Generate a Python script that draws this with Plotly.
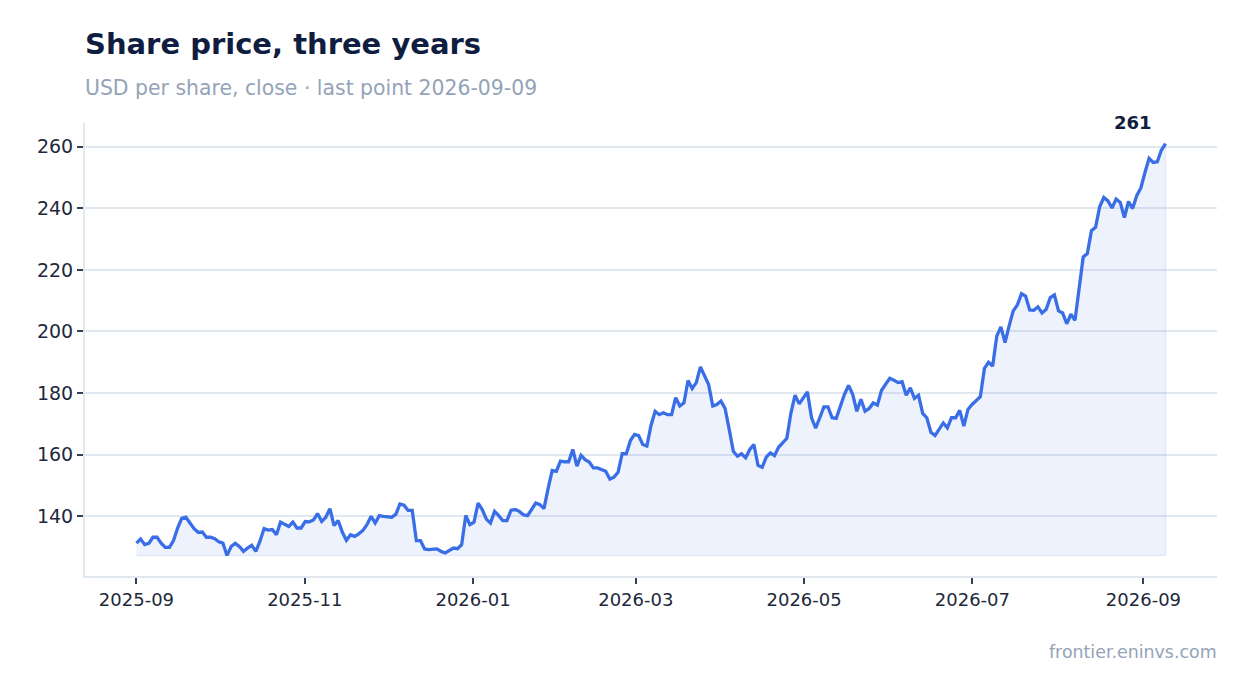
import pandas as pd
import plotly.graph_objects as go

# closing prices (evenly spaced sessions)
close = [
    131.3, 132.6, 130.8, 131.2, 133.2, 133.2, 131.3, 129.9, 129.9, 132.1,
    136.2, 139.3, 139.7, 137.8, 136.0, 134.8, 134.9, 133.2, 133.2, 132.7,
    131.7, 131.3, 127.3, 130.2, 131.2, 130.2, 128.6, 129.7, 130.6, 128.6,
    131.9, 136.0, 135.5, 135.7, 134.0, 138.1, 137.5, 136.7, 138.1, 136.2,
    136.2, 138.3, 138.2, 138.8, 140.9, 138.3, 139.7, 142.5, 137.0, 138.6,
    134.9, 132.2, 134.0, 133.5, 134.3, 135.4, 137.3, 140.0, 137.8, 140.2,
    140.0, 139.9, 139.7, 140.6, 144.0, 143.6, 141.9, 141.9, 132.1, 132.1,
    129.4, 129.2, 129.3, 129.4, 128.6, 128.1, 128.9, 129.7, 129.5, 130.8,
    140.3, 137.3, 138.1, 144.3, 142.2, 139.1, 137.8, 141.6, 140.2, 138.6,
    138.6, 142.0, 142.2, 141.6, 140.5, 140.2, 142.2, 144.3, 143.8, 142.5,
    149.0, 154.9, 154.6, 157.9, 157.7, 157.7, 161.7, 156.3, 159.8, 158.4,
    157.6, 155.7, 155.7, 155.2, 154.6, 152.1, 152.7, 154.3, 160.3, 160.3,
    164.6, 166.6, 166.2, 163.3, 162.8, 169.5, 174.1, 173.0, 173.6, 173.0,
    173.0, 178.5, 175.8, 176.8, 184.1, 181.5, 183.4, 188.5, 185.5, 182.8,
    175.8, 176.3, 177.4, 175.0, 168.2, 161.1, 159.5, 160.3, 159.0, 161.7,
    163.3, 156.5, 155.9, 159.2, 160.6, 159.7, 162.4, 163.8, 165.3, 173.6,
    179.3, 176.5, 178.5, 180.4, 172.0, 168.6, 172.0, 175.5, 175.5, 172.0,
    171.8, 175.8, 179.6, 182.5, 179.6, 174.1, 178.0, 174.1, 175.0, 176.8,
    176.1, 180.9, 182.8, 184.8, 184.2, 183.4, 183.7, 179.3, 181.7, 178.3,
    179.3, 173.4, 172.0, 167.3, 166.2, 168.2, 170.3, 168.7, 172.0, 172.0,
    174.4, 169.3, 174.7, 176.3, 177.4, 178.8, 188.0, 190.0, 188.8, 198.5,
    201.5, 196.4, 201.8, 206.7, 208.6, 212.3, 211.5, 207.0, 206.9, 208.0,
    206.0, 207.2, 211.0, 211.9, 206.7, 206.0, 202.5, 205.6, 203.6, 213.7,
    224.2, 225.3, 232.7, 233.8, 240.5, 243.5, 242.4, 240.1, 243.0, 241.9,
    237.0, 242.2, 239.9, 244.1, 246.6, 251.6, 256.2, 254.9, 255.1, 258.9,
    261.0,
]
first_day = "2025-09-01"
last_day = "2026-09-09"

title = "Share price, three years"
subtitle = "USD per share, close · last point 2026-09-09"
source = "frontier.eninvs.com"

LINE = "#3a6ee6"
NAVY = "#0f1d40"
GREY = "#94a3b8"
GRID = "#e2e8f0"
FONT = "DejaVu Sans"

dates = pd.date_range(first_day, last_day, periods=len(close))
base = min(close)

# padded ranges like the original
span_y = max(close) - base
y_range = [base - 0.05 * span_y, max(close) + 0.05 * span_y]
span_x = dates[-1] - dates[0]
x_range = [dates[0] - 0.05 * span_x, dates[-1] + 0.05 * span_x]

fig = go.Figure()

# light area under the line, down to the lowest close
fig.add_trace(go.Scatter(
    x=list(dates) + list(dates[::-1]),
    y=close + [base] * len(close),
    fill="toself", fillcolor="rgba(58,110,230,0.085)",
    line=dict(color="rgba(58,110,230,0.10)", width=1.5),
    mode="lines", hoverinfo="skip",
))
fig.add_trace(go.Scatter(
    x=dates, y=close, mode="lines",
    line=dict(color=LINE, width=3.3),
))

fig.add_annotation(
    x=dates[-1], y=close[-1], text="<b>%d</b>" % round(close[-1]),
    showarrow=False, xanchor="center", yanchor="middle",
    xshift=-33, yshift=21,
    font=dict(family=FONT, size=18, color=NAVY),
)
fig.add_annotation(
    xref="paper", yref="paper", x=0, y=1.077, text=subtitle,
    showarrow=False, xanchor="left", yanchor="middle", xshift=-2,
    font=dict(family=FONT, size=20.4, color=GREY),
)
fig.add_annotation(
    xref="paper", yref="paper", x=1, y=-0.168, text=source,
    showarrow=False, xanchor="right", yanchor="middle", xshift=2,
    font=dict(family=FONT, size=17.4, color=GREY),
)

fig.update_layout(
    width=1247, height=693,
    margin=dict(l=77, r=38, t=115, b=125),
    paper_bgcolor="white", plot_bgcolor="white",
    showlegend=False,
    font=dict(family=FONT, color=NAVY),
    title=dict(
        text="<b>" + title + "</b>",
        x=0, xref="paper", xanchor="left",
        y=1 - 36 / 693, yref="container", yanchor="middle",
        font=dict(family=FONT, size=29, color=NAVY),
    ),
    xaxis=dict(
        range=x_range, tickformat="%Y-%m", dtick="M2", tick0=first_day,
        showgrid=False, showline=True, linecolor=GRID, linewidth=2,
        ticks="outside", ticklen=6, tickwidth=2, tickcolor="#334155",
        tickfont=dict(family=FONT, size=18, color="#1e293b"),
    ),
    yaxis=dict(
        range=y_range, dtick=20,
        showgrid=True, gridcolor=GRID, gridwidth=1.5, zeroline=False,
        showline=True, linecolor=GRID, linewidth=2,
        ticks="outside", ticklen=6, tickwidth=2, tickcolor="#334155",
        tickfont=dict(family=FONT, size=19, color="#1e293b"),
    ),
)

fig.write_html("out.html")
